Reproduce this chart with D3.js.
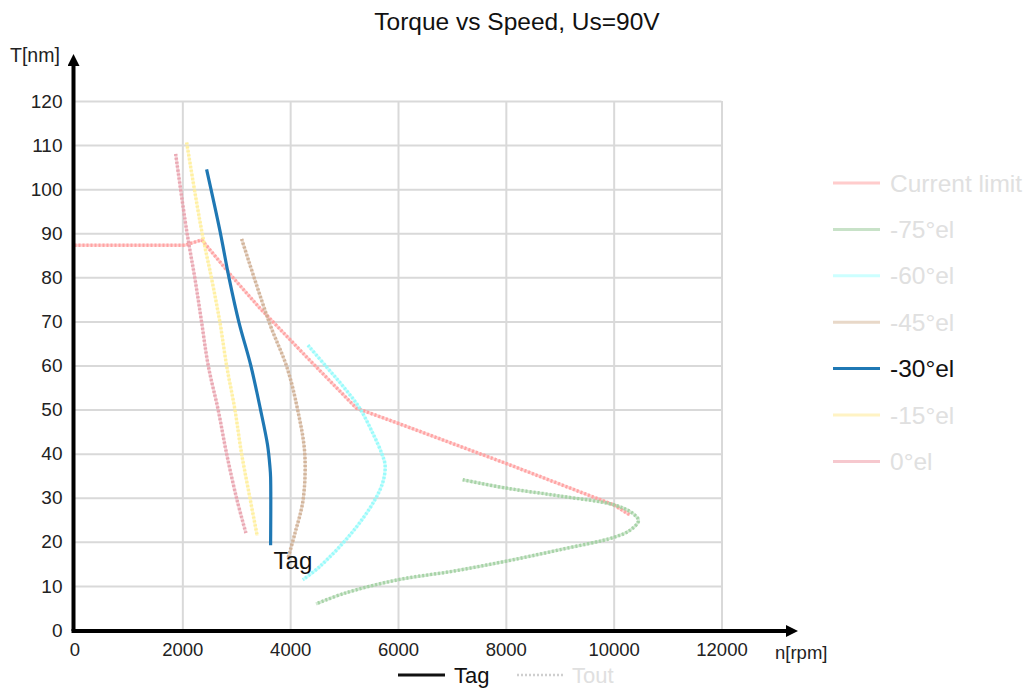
<!DOCTYPE html>
<html>
<head>
<meta charset="utf-8">
<script src="https://cdn.jsdelivr.net/npm/d3@7"></script>
<style>
  body { margin: 0; background: #fff; }
  svg { font-family: "Liberation Sans", Arial, sans-serif; }
</style>
</head>
<body>
<div id="chart"></div>
<script>
// Data: [rpm, torque] pairs
const currentLimit = [[0, 87.3], [2050, 87.3], [2360, 88.5], [2900, 80.5], [3440, 73], [4300, 62], [5230, 50.3], [6000, 46.9], [8000, 37.8], [10000, 28.4], [10300, 26.1]];
const el75 = [[7200, 34.1], [8000, 32.2], [9000, 30.4], [10000, 28.4], [10350, 26.5], [10460, 24.8], [10300, 22.6], [10000, 21], [9000, 18.2], [8000, 15.6], [7000, 13.3], [6000, 11.4], [5000, 8.3], [4480, 5.9]];
const el60 = [[4330, 64.6], [4680, 59.6], [5000, 55], [5290, 50.3], [5530, 44.7], [5700, 40], [5760, 37.5], [5730, 34], [5570, 29.5], [5140, 22], [4550, 14.4], [4235, 11.4]];
const el45 = [[3100, 88.7], [3620, 69.5], [3940, 59.6], [4140, 49.9], [4270, 40.1], [4240, 29.5], [4090, 22], [3960, 16.3]];
const el30 = [[2450, 104.5], [2697, 90.6], [2869, 79.7], [3050, 69.8], [3270, 60], [3450, 50], [3580, 42], [3625, 37], [3637, 34.7], [3637, 19.2]];
const el15 = [[2080, 110.6], [2358, 90.6], [2543, 79.7], [2697, 69.8], [2821, 60], [2975, 50], [3099, 40], [3253, 30], [3388, 21.4]];
const el0 = [[1876, 108], [2080, 90.6], [2234, 79.7], [2358, 69.8], [2480, 60], [2665, 49.9], [2821, 40], [3006, 29.9], [3179, 22]];

const seriesNames = ["Current limit", "-75°el", "-60°el", "-45°el", "-30°el", "-15°el", "0°el"];
const seriesData = [currentLimit, el75, el60, el45, el30, el15, el0];
const activeSeries = "-30°el";

const xTicks = [0, 2000, 4000, 6000, 8000, 10000, 12000];
const yTicks = [0, 10, 20, 30, 40, 50, 60, 70, 80, 90, 100, 110, 120];

// Styles
const lineColors = ["#ff9c9c", "#9fcf9f", "#8ffafa", "#cfae92", "#1f78b4", "#ffee99", "#e8a0ab"];
const legendColors = ["#ffcccc", "#c8e2c8", "#ccffff", "#e8d8c8", "#1f78b4", "#fff3c4", "#f6c8ce"];

const width = 1034, height = 688;
const plot = { left: 74.5, right: 721.5, top: 101, bottom: 630 };

const svg = d3.select("#chart").append("svg")
  .attr("width", width)
  .attr("height", height);

const xScale = d3.scaleLinear().domain([0, 12000]).range([plot.left, plot.right]);
const yScale = d3.scaleLinear().domain([0, 120]).range([plot.bottom, plot.top]);

// Title
svg.append("text")
  .attr("x", 517).attr("y", 30)
  .attr("text-anchor", "middle")
  .attr("font-size", 24.5)
  .attr("fill", "#111")
  .text("Torque vs Speed, Us=90V");

// Gridlines
svg.append("g")
  .attr("transform", `translate(0, ${plot.bottom})`)
  .call(d3.axisBottom(xScale).tickValues(xTicks.slice(1)).tickSize(-(plot.bottom - plot.top)).tickFormat(""))
  .call((g) => g.select(".domain").remove())
  .call((g) => g.selectAll(".tick line").attr("stroke", "#d9d9d9").attr("stroke-width", 2));

svg.append("g")
  .attr("transform", `translate(${plot.left}, 0)`)
  .call(d3.axisLeft(yScale).tickValues(yTicks.slice(1)).tickSize(-(plot.right - plot.left)).tickFormat(""))
  .call((g) => g.select(".domain").remove())
  .call((g) => g.selectAll(".tick line").attr("stroke", "#d9d9d9").attr("stroke-width", 2));

// Tick labels
const xAxisG = svg.append("g")
  .attr("transform", `translate(0, ${plot.bottom})`)
  .call(d3.axisBottom(xScale).tickValues(xTicks).tickSize(0).tickPadding(20).tickFormat(d3.format("d")));
xAxisG.select(".domain").remove();
xAxisG.selectAll(".tick text")
  .attr("font-size", 18.5)
  .attr("font-family", "Liberation Sans, Arial, sans-serif")
  .attr("fill", "#222")
  .attr("dy", "0.32em");

const yAxisG = svg.append("g")
  .attr("transform", `translate(${plot.left}, 0)`)
  .call(d3.axisLeft(yScale).tickValues(yTicks).tickSize(0).tickPadding(12));
yAxisG.select(".domain").remove();
yAxisG.selectAll(".tick text")
  .attr("font-size", 19)
  .attr("font-family", "Liberation Sans, Arial, sans-serif")
  .attr("fill", "#222");

// Axis titles
svg.append("text").attr("x", 10).attr("y", 62).attr("font-size", 19.5).attr("fill", "#222").text("T[nm]");
svg.append("text").attr("x", 775).attr("y", 659).attr("font-size", 18.5).attr("fill", "#222").text("n[rpm]");

// Curves
const line = d3.line()
  .x((d) => xScale(d[0]))
  .y((d) => yScale(d[1]));

const curves = svg.append("g");
seriesData.forEach((data, i) => {
  const name = seriesNames[i];
  if (name === activeSeries) return;
  const curve = i === 0 ? d3.curveLinear : d3.curveCatmullRom;
  curves.append("path")
    .attr("d", line.curve(curve)(data))
    .attr("fill", "none")
    .attr("stroke", lineColors[i])
    .attr("stroke-width", 3)
    .attr("stroke-opacity", 0.45);
  curves.append("path")
    .attr("d", line.curve(curve)(data))
    .attr("fill", "none")
    .attr("stroke", lineColors[i])
    .attr("stroke-width", 3.5)
    .attr("stroke-dasharray", "2,2")
    .attr("stroke-opacity", 0.85);
});

// Active series on top
const activeIndex = seriesNames.indexOf(activeSeries);
curves.append("path")
  .attr("d", line.curve(d3.curveCatmullRom)(seriesData[activeIndex]))
  .attr("fill", "none")
  .attr("stroke", lineColors[activeIndex])
  .attr("stroke-width", 3.2);

// Label at the end of the active curve
const lastPt = seriesData[activeIndex][seriesData[activeIndex].length - 1];
svg.append("text")
  .attr("x", xScale(lastPt[0]) + 3)
  .attr("y", yScale(lastPt[1]) + 24)
  .attr("font-size", 24)
  .attr("fill", "#111")
  .text("Tag");

// Axis lines with arrows
svg.append("defs").append("marker")
  .attr("id", "arrow")
  .attr("viewBox", "0 0 10 10")
  .attr("refX", 5).attr("refY", 5)
  .attr("markerWidth", 3).attr("markerHeight", 3)
  .attr("orient", "auto")
  .append("path")
  .attr("d", "M0,0 L10,5 L0,10 z")
  .attr("fill", "#000");

svg.append("line")
  .attr("x1", plot.left - 1).attr("y1", plot.bottom + 1)
  .attr("x2", plot.left - 1).attr("y2", 60)
  .attr("stroke", "#000").attr("stroke-width", 4)
  .attr("marker-end", "url(#arrow)");
svg.append("line")
  .attr("x1", plot.left - 3).attr("y1", plot.bottom + 1)
  .attr("x2", 792).attr("y2", plot.bottom + 1)
  .attr("stroke", "#000").attr("stroke-width", 4)
  .attr("marker-end", "url(#arrow)");

// Right legend
const legend = svg.append("g").attr("transform", "translate(833, 183)");
const rows = legend.selectAll("g")
  .data(seriesNames)
  .join("g")
  .attr("transform", (d, i) => `translate(0, ${i * 46.4})`);
rows.append("line")
  .attr("x1", 0).attr("x2", 47)
  .attr("stroke", (d, i) => legendColors[i])
  .attr("stroke-width", 3);
rows.append("text")
  .attr("x", 57).attr("dy", "0.35em")
  .attr("font-size", 24.5)
  .attr("fill", (d) => (d === activeSeries ? "#111" : "#e0e0e0"))
  .text((d) => d);

// Bottom legend
const bottomLegend = svg.append("g").attr("transform", "translate(398, 675)");
bottomLegend.append("line")
  .attr("x1", 0).attr("x2", 47)
  .attr("stroke", "#111").attr("stroke-width", 3);
bottomLegend.append("text")
  .attr("x", 56).attr("dy", "0.35em")
  .attr("font-size", 22).attr("fill", "#111")
  .text("Tag");
bottomLegend.append("line")
  .attr("x1", 119).attr("x2", 166)
  .attr("stroke", "#cfcfcf").attr("stroke-width", 2.5)
  .attr("stroke-dasharray", "2,2");
bottomLegend.append("text")
  .attr("x", 174).attr("dy", "0.35em")
  .attr("font-size", 22).attr("fill", "#e0e0e0")
  .text("Tout");
</script>
</body>
</html>
